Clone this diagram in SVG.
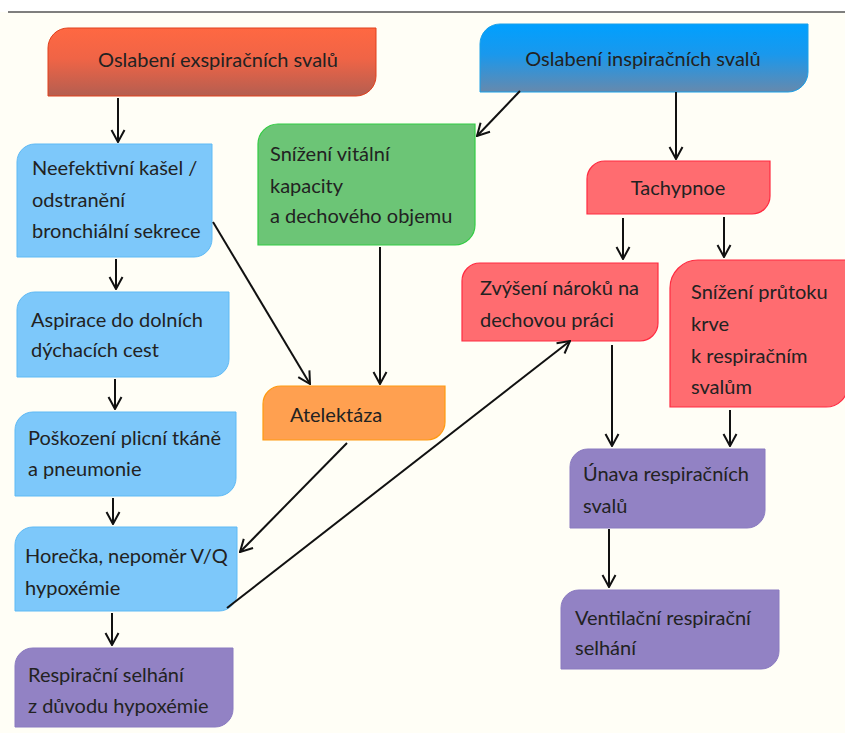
<svg xmlns="http://www.w3.org/2000/svg" width="845" height="733" viewBox="0 0 845 733">
<defs>
<linearGradient id="gRed" x1="0" y1="0" x2="0" y2="1"><stop offset="0" stop-color="#ff6842"/><stop offset="0.45" stop-color="#f06446"/><stop offset="1" stop-color="#b45e50"/></linearGradient>
<linearGradient id="gBlue" x1="0" y1="0" x2="0" y2="1"><stop offset="0" stop-color="#00a0ff"/><stop offset="0.45" stop-color="#1a98ec"/><stop offset="1" stop-color="#6689ad"/></linearGradient>
<marker id="ah" viewBox="0 0 14 16" refX="13" refY="8" markerWidth="14" markerHeight="16" markerUnits="userSpaceOnUse" orient="auto"><path d="M1,1.5 L13,8 L1,14.5" fill="none" stroke="#111" stroke-width="2"/></marker>
<style>
text{font-family:"Lato","Liberation Sans",sans-serif;font-size:20px;fill:#222}
.lb{fill:#7dc8fa;stroke:#5fbaf5;stroke-width:1}
.gr{fill:#6cc576;stroke:#33cc44;stroke-width:1.2}
.rd{fill:#ff6c70;stroke:#ff2a40;stroke-width:1.2}
.or{fill:#ffa050;stroke:#ff9a10;stroke-width:1.2}
.pu{fill:#9282c4;stroke:#8a7ac0;stroke-width:1}
.c line{stroke:#111;stroke-width:2;marker-end:url(#ah)}
</style>
</defs>
<rect x="0" y="0" width="845" height="733" fill="#fffef6"/>
<rect x="0" y="0" width="845" height="12" fill="#ffffff"/>
<line x1="8" y1="12" x2="845" y2="12" stroke="#555" stroke-width="1.5"/>

<g id="exspir">
<path d="M68,28 H376 V76 A20,20 0 0 1 356,96 H48 V48 A20,20 0 0 1 68,28 Z" fill="url(#gRed)" stroke="#e0401c" stroke-width="1"/>
<text x="218" y="67" text-anchor="middle">Oslabení exspiračních svalů</text>
</g>
<g id="inspir">
<path d="M500,24 H808 V72 A20,20 0 0 1 788,92 H480 V44 A20,20 0 0 1 500,24 Z" fill="url(#gBlue)" stroke="#1aa0e8" stroke-width="1"/>
<text x="643" y="66" text-anchor="middle">Oslabení inspiračních svalů</text>
</g>
<g id="neefektivni">
<path d="M35,144 H212 V239 A18,18 0 0 1 194,257 H17 V162 A18,18 0 0 1 35,144 Z" class="lb"/>
<text x="32" y="175">Neefektivní kašel /</text>
<text x="32" y="207">odstranění</text>
<text x="32" y="238">bronchiální sekrece</text>
</g>
<g id="snizeni-vitalni">
<path d="M278,124 H475 V225 A20,20 0 0 1 455,245 H258 V144 A20,20 0 0 1 278,124 Z" class="gr"/>
<text x="270" y="161">Snížení vitální</text>
<text x="270" y="193">kapacity</text>
<text x="270" y="223">a dechového objemu</text>
</g>
<g id="tachypnoe">
<path d="M605,161 H770 V196 A18,18 0 0 1 752,214 H587 V179 A18,18 0 0 1 605,161 Z" class="rd"/>
<text x="678" y="195" text-anchor="middle">Tachypnoe</text>
</g>
<g id="aspirace">
<path d="M35,292 H229 V359 A18,18 0 0 1 211,377 H17 V310 A18,18 0 0 1 35,292 Z" class="lb"/>
<text x="31" y="327">Aspirace do dolních</text>
<text x="31" y="357">dýchacích cest</text>
</g>
<g id="zvyseni">
<path d="M480,263 H658 V323 A18,18 0 0 1 640,341 H462 V281 A18,18 0 0 1 480,263 Z" class="rd"/>
<text x="480" y="295">Zvýšení nároků na</text>
<text x="480" y="327">dechovou práci</text>
</g>
<g id="snizeni-prutoku">
<path d="M698,260 H848 V385 A22,22 0 0 1 826,407 H670 V288 A28,28 0 0 1 698,260 Z" class="rd"/>
<text x="691" y="299">Snížení průtoku</text>
<text x="691" y="331">krve</text>
<text x="691" y="363">k respiračním</text>
<text x="691" y="394">svalům</text>
</g>
<g id="atelektaza">
<path d="M281,386 H445 V422 A18,18 0 0 1 427,440 H263 V404 A18,18 0 0 1 281,386 Z" class="or"/>
<text x="290" y="422">Atelektáza</text>
</g>
<g id="poskozeni">
<path d="M33,412 H236 V478 A18,18 0 0 1 218,496 H15 V430 A18,18 0 0 1 33,412 Z" class="lb"/>
<text x="28" y="445">Poškození plicní tkáně</text>
<text x="28" y="476">a pneumonie</text>
</g>
<g id="unava">
<path d="M588,449 H765 V510 A18,18 0 0 1 747,528 H570 V467 A18,18 0 0 1 588,449 Z" class="pu"/>
<text x="583" y="481">Únava respiračních</text>
<text x="583" y="513">svalů</text>
</g>
<g id="horecka">
<path d="M33,527 H237 V593 A18,18 0 0 1 219,611 H15 V545 A18,18 0 0 1 33,527 Z" class="lb"/>
<text x="25" y="563">Horečka, nepoměr V/Q</text>
<text x="25" y="595">hypoxémie</text>
</g>
<g id="ventilacni">
<path d="M579,590 H779 V651 A18,18 0 0 1 761,669 H561 V608 A18,18 0 0 1 579,590 Z" class="pu"/>
<text x="575" y="625">Ventilační respirační</text>
<text x="575" y="655">selhání</text>
</g>
<g id="respiracni">
<path d="M33,648 H233 V709 A18,18 0 0 1 215,727 H15 V666 A18,18 0 0 1 33,648 Z" class="pu"/>
<text x="28" y="682">Respirační selhání</text>
<text x="28" y="713">z důvodu hypoxémie</text>
</g>

<g id="connectors" class="c">
<line x1="118" y1="98" x2="118" y2="142"/>
<line x1="520" y1="91" x2="477" y2="136"/>
<line x1="676" y1="92" x2="676" y2="159"/>
<line x1="623" y1="218" x2="623" y2="259"/>
<line x1="724" y1="217" x2="724" y2="257"/>
<line x1="116" y1="259" x2="116" y2="289"/>
<line x1="213" y1="222" x2="310" y2="384"/>
<line x1="380" y1="247" x2="380" y2="384"/>
<line x1="115" y1="379" x2="115" y2="409"/>
<line x1="612" y1="345" x2="612" y2="446"/>
<line x1="730" y1="410" x2="730" y2="446"/>
<line x1="347" y1="443" x2="240" y2="552"/>
<line x1="227" y1="608" x2="570" y2="341"/>
<line x1="113" y1="498" x2="113" y2="524"/>
<line x1="609" y1="529" x2="609" y2="587"/>
<line x1="112" y1="613" x2="112" y2="645"/>
</g>
</svg>
